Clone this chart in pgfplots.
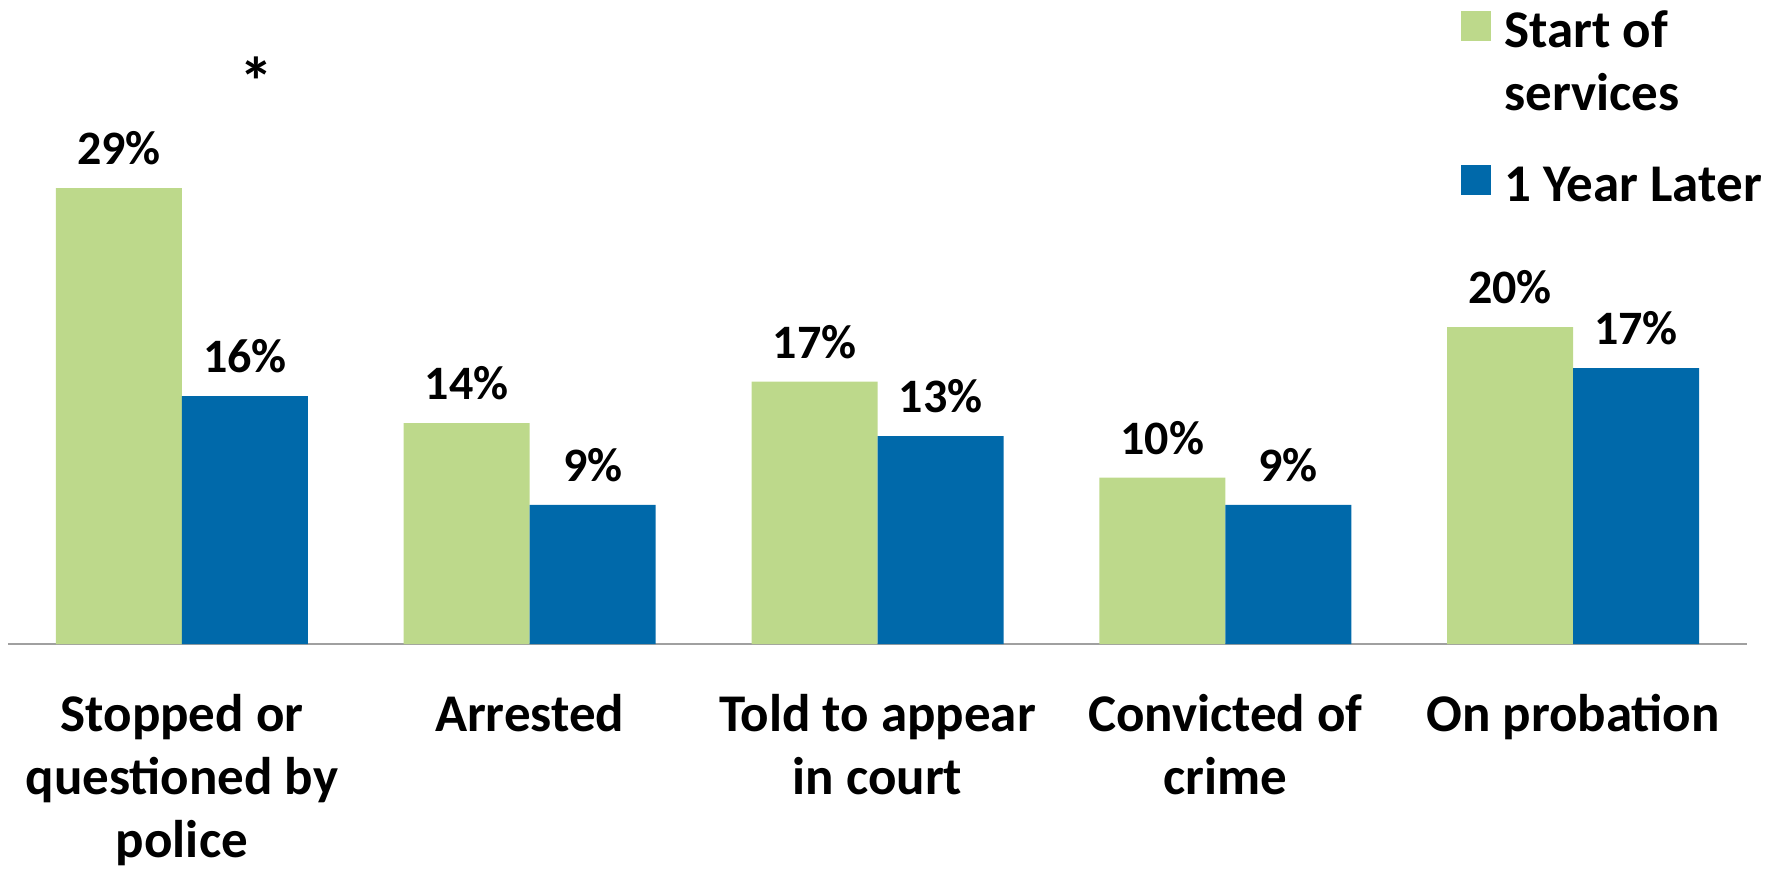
\documentclass[border=0pt]{standalone}
\usepackage{pgfplots}
\pgfplotsset{compat=1.18}
\usepackage{fontspec}
\setmainfont{Carlito}

\definecolor{startgreen}{RGB}{189,217,139}
\definecolor{yearblue}{RGB}{0,105,170}
\definecolor{axisgray}{RGB}{160,160,160}

% multi-line label whose baseline is the first line
\newcommand{\toplines}[1]{\begin{tabular}[t]{@{}c@{}}#1\end{tabular}}
\newcommand{\leftlines}[1]{\begin{tabular}[t]{@{}l@{}}#1\end{tabular}}

\begin{document}
\begin{tikzpicture}[font=\fontsize{26.5}{31.5}\selectfont\bfseries]
\useasboundingbox (-4pt,-112.5pt) rectangle (888pt,322pt);
\begin{axis}[
    scale only axis,
    width=869.5pt,
    height=240pt,
    ybar=0pt,
    bar width=63pt,
    xmin=-0.5, xmax=4.5,
    ymin=0, ymax=30,
    axis y line=none,
    axis x line*=bottom,
    x axis line style={draw=axisgray, line width=1pt, -},
    xtick={0,1,2,3,4},
    xticklabels={
        \toplines{Stopped or\\questioned by\\police},
        \toplines{Arrested},
        \toplines{Told to appear\\in court},
        \toplines{Convicted of\\crime},
        \toplines{On probation}},
    major tick length=0pt,
    xticklabel style={anchor=base, yshift=-43.5pt, inner sep=0pt},
    clip=false,
    point meta=explicit symbolic,
    nodes near coords,
    every node near coord/.append style={anchor=base, yshift=11.75pt,
        inner sep=0pt, font=\fontsize{24}{28}\selectfont\bfseries},
    legend style={at={(axis cs:3.6756,40.07)}, anchor=north west,
        draw=none, fill=none, inner sep=0pt,
        column sep=7pt, row sep=57.5pt,
        nodes={inner sep=0pt},
        cells={anchor=base west}},
    legend image code/.code={\fill[#1] (0pt,3pt) rectangle (15pt,18pt);},
]
\addplot[fill=startgreen, draw=none] coordinates {
    (0,28.5) [29\%]
    (1,13.8) [14\%]
    (2,16.4) [17\%]
    (3,10.4) [10\%]
    (4,19.8) [20\%]
};
\addlegendentry{\leftlines{Start of\\services}}
\addplot[fill=yearblue, draw=none] coordinates {
    (0,15.5) [16\%]
    (1,8.7)  [9\%]
    (2,13.0) [13\%]
    (3,8.7)  [9\%]
    (4,17.25) [17\%]
};
\addlegendentry{1 Year Later}
\node[font=\fontsize{34}{40}\selectfont\bfseries] at (axis cs:0.214,35.2) {*};
\end{axis}
\end{tikzpicture}
\end{document}
